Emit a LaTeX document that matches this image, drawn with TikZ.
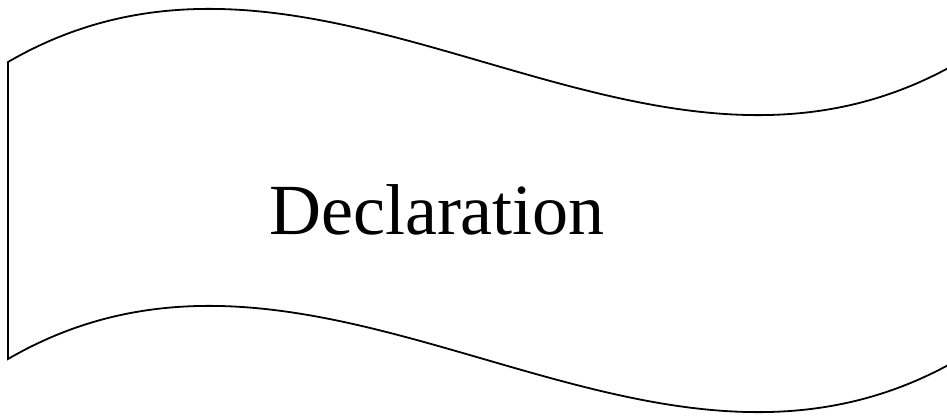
\documentclass[tikz,border=0pt]{standalone}
\usepackage{fontspec}
\setmainfont{Liberation Serif}
\begin{document}
\begin{tikzpicture}[x=1pt, y=-1pt]
        \useasboundingbox (0,0) rectangle (947,415);

        % The wave banner: corners
        \coordinate (TL) at (8,62);
        \coordinate (TR) at (959,62);
        \coordinate (BL) at (8,359);
        \coordinate (BR) at (959,359);

        % Outline of the banner
        \draw[line width=1.8pt, line join=miter]
            (TL) .. controls (325,-122) and (642,246) .. (TR)
            -- (BR)
            .. controls (642,543) and (325,175) .. (BL)
            -- cycle;

        % Label
        \node (title) at (437,210) {\fontsize{72}{80}\selectfont Declaration};
    \end{tikzpicture}
\end{document}
